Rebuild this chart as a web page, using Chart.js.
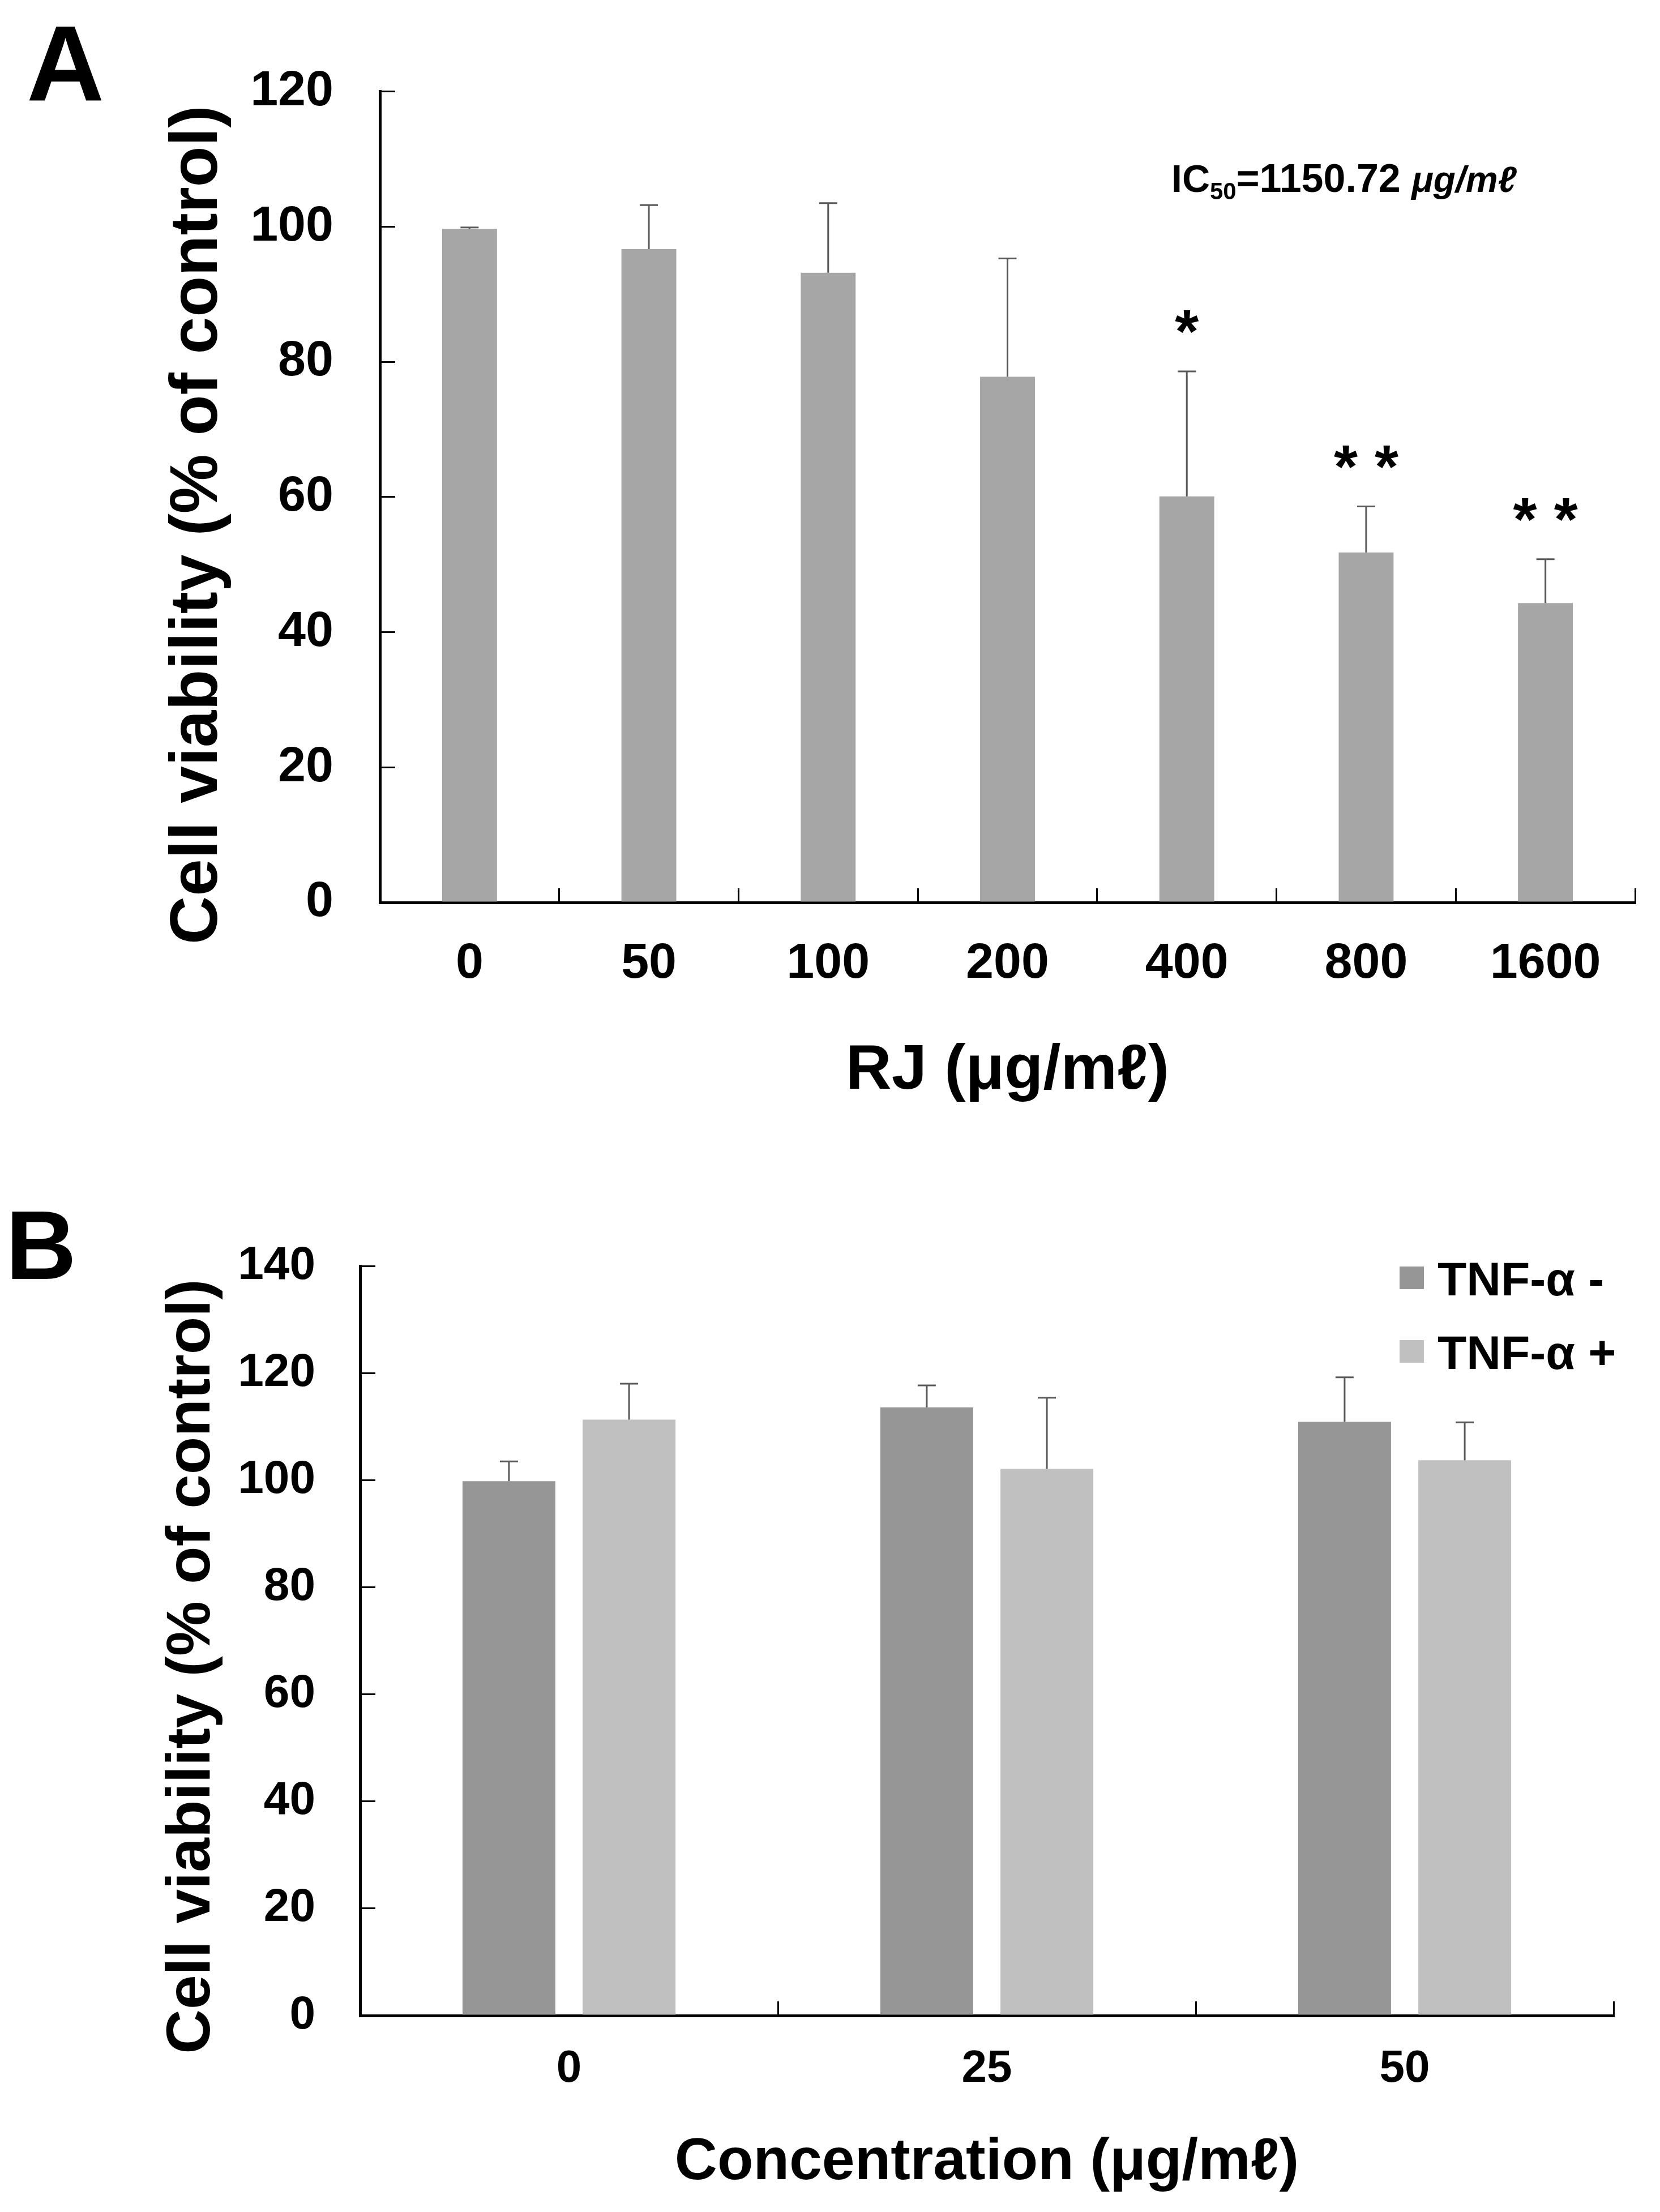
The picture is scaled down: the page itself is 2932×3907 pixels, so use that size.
<!DOCTYPE html>
<html>
<head>
<meta charset="utf-8">
<script src="https://cdn.jsdelivr.net/npm/chart.js@4.4.1/dist/chart.umd.min.js"></script>
<style>
  body { margin: 0; background: #fff; }
  canvas { display: block; }
</style>
</head>
<body>
<canvas id="chartA" width="2932" height="2000" style="width:2932px;height:2000px"></canvas>
<canvas id="chartB" width="2932" height="1907" style="width:2932px;height:1907px"></canvas>
<script>
const FONT = "'Liberation Sans', Arial, sans-serif";

// panel A - RJ dose response
const rjDoses = ['0', '50', '100', '200', '400', '800', '1600'];
const rjViability = [99.7, 96.7, 93.2, 77.8, 60.1, 51.8, 44.3];
const rjError = [0.2, 6.5, 10.3, 17.5, 18.5, 6.8, 6.5];
const rjStars = ['', '', '', '', '*', '* *', '* *'];

// panel B - with / without TNF-a
const concLabels = ['0', '25', '50'];
const tnfMinus = [99.8, 113.6, 110.9];
const tnfMinusErr = [3.7, 4.1, 8.3];
const tnfPlus = [111.3, 102.1, 103.7];
const tnfPlusErr = [6.7, 13.3, 7.1];

Chart.defaults.font.family = FONT;
Chart.defaults.color = '#000';

const errorBars = {
    id: 'errorBars',
    afterDatasetsDraw(chart) {
        const ctx = chart.ctx;
        const y = chart.scales.y;
        chart.data.datasets.forEach((ds, i) => {
            if (!ds.errors) return;
            const meta = chart.getDatasetMeta(i);
            ctx.save();
            ctx.strokeStyle = '#595959';
            ctx.lineWidth = 3;
            meta.data.forEach((bar, j) => {
                const top = y.getPixelForValue(ds.data[j] + ds.errors[j]);
                ctx.beginPath();
                ctx.moveTo(bar.x, bar.y);
                ctx.lineTo(bar.x, top);
                ctx.moveTo(bar.x - 16, top);
                ctx.lineTo(bar.x + 16, top);
                ctx.stroke();
                if (ds.stars && ds.stars[j]) {
                    ctx.fillStyle = '#000';
                    ctx.font = 'bold 108px ' + FONT;
                    ctx.textAlign = 'center';
                    ctx.textBaseline = 'alphabetic';
                    ctx.fillText(ds.stars[j], bar.x, top - 34);
                }
            });
            ctx.restore();
        });
    }
};

const panelLetter = {
    id: 'panelLetter',
    afterDraw(chart, args, opts) {
        const ctx = chart.ctx;
        ctx.save();
        ctx.fillStyle = '#000';
        ctx.font = 'bold ' + opts.size + 'px ' + FONT;
        ctx.textAlign = 'left';
        ctx.textBaseline = 'alphabetic';
        ctx.fillText(opts.text, opts.x, opts.y);
        ctx.restore();
    }
};

const ic50Note = {
    id: 'ic50Note',
    afterDraw(chart) {
        const ctx = chart.ctx;
        const area = chart.chartArea;
        let x = area.left + 1398;
        const y = area.top + 177;
        ctx.save();
        ctx.fillStyle = '#000';
        ctx.textBaseline = 'alphabetic';
        ctx.textAlign = 'left';
        ctx.font = 'bold 68px ' + FONT;
        ctx.fillText('IC', x, y);
        x += ctx.measureText('IC').width;
        ctx.font = 'bold 42px ' + FONT;
        ctx.fillText('50', x, y + 13);
        x += ctx.measureText('50').width;
        ctx.font = 'bold 70px ' + FONT;
        ctx.fillText('=1150.72 ', x, y);
        x += ctx.measureText('=1150.72 ').width;
        ctx.font = 'italic bold 64px ' + FONT;
        ctx.fillText('\u03bcg/m\u2113', x, y);
        ctx.restore();
    }
};

const sideLegend = {
    id: 'sideLegend',
    afterDraw(chart) {
        const ctx = chart.ctx;
        const area = chart.chartArea;
        ctx.save();
        ctx.font = 'bold 84px ' + FONT;
        ctx.textAlign = 'left';
        ctx.textBaseline = 'alphabetic';
        chart.data.datasets.forEach((ds, i) => {
            const left = area.right - 378;
            const cy = area.top + 21 + i * 130;
            ctx.fillStyle = ds.backgroundColor;
            ctx.fillRect(left, cy - 20, 43, 40);
            ctx.fillStyle = '#000';
            ctx.fillText(ds.label, left + 67, cy + 31);
        });
        ctx.restore();
    }
};

function yAxis(max, tickSize, padding, axisWidth, title, titleSize, titleTop) {
    return {
        min: 0,
        max: max,
        ticks: { stepSize: 20, padding: padding, font: { size: tickSize, weight: 'bold' }, color: '#000' },
        grid: { drawOnChartArea: false, drawTicks: true, tickLength: -27, color: '#000', lineWidth: 3 },
        border: { display: true, color: '#000', width: 5 },
        title: {
            display: true,
            text: title,
            color: '#000',
            font: { size: titleSize, weight: 'bold' },
            padding: { top: titleTop, bottom: 0 }
        },
        afterFit: s => { s.width = axisWidth; }
    };
}

function xAxis(tickSize, padding, axisHeight, title, titleSize, titleBottom) {
    return {
        offset: true,
        ticks: { padding: padding, autoSkip: false, maxRotation: 0, font: { size: tickSize, weight: 'bold' }, color: '#000' },
        grid: { offset: true, drawOnChartArea: false, drawTicks: true, tickLength: -25, color: '#000', lineWidth: 3 },
        border: { display: true, color: '#000', width: 5 },
        title: {
            display: true,
            text: title,
            color: '#000',
            font: { size: titleSize, weight: 'bold' },
            padding: { top: 0, bottom: titleBottom }
        },
        afterFit: s => { s.height = axisHeight; }
    };
}

new Chart(document.getElementById('chartA'), {
    type: 'bar',
    data: {
        labels: rjDoses,
        datasets: [{
            label: 'RJ',
            data: rjViability,
            errors: rjError,
            stars: rjStars,
            backgroundColor: '#a6a6a6',
            barPercentage: 0.306,
            categoryPercentage: 1
        }]
    },
    options: {
        responsive: false,
        animation: false,
        devicePixelRatio: 1,
        layout: { padding: { left: 0, top: 141.6, right: 44, bottom: 0 } },
        plugins: {
            legend: { display: false },
            tooltip: { enabled: false },
            panelLetter: { text: 'A', x: 47, y: 177, size: 190 }
        },
        scales: {
            x: xAxis(88, 81, 406, 'RJ (\u03bcg/m\u2113)', 112, 41),
            y: yAxis(120, 88, 109, 671, 'Cell viability (% of control)   ', 118, 280)
        }
    },
    plugins: [errorBars, panelLetter, ic50Note]
});

new Chart(document.getElementById('chartB'), {
    type: 'bar',
    data: {
        labels: concLabels,
        datasets: [{
            label: 'TNF-\u03b1 -',
            data: tnfMinus,
            errors: tnfMinusErr,
            backgroundColor: '#969696',
            barPercentage: 0.773,
            categoryPercentage: 0.575
        }, {
            label: 'TNF-\u03b1 +',
            data: tnfPlus,
            errors: tnfPlusErr,
            backgroundColor: '#c0c0c0',
            barPercentage: 0.773,
            categoryPercentage: 0.575
        }]
    },
    options: {
        responsive: false,
        animation: false,
        devicePixelRatio: 1,
        layout: { padding: { left: 0, top: 236, right: 82, bottom: 0 } },
        plugins: {
            legend: { display: false },
            tooltip: { enabled: false },
            panelLetter: { text: 'B', x: 10, y: 259, size: 173 }
        },
        scales: {
            x: xAxis(80, 72, 347, 'Concentration (\u03bcg/m\u2113)', 104, 24),
            y: yAxis(140, 82, 106, 636, 'Cell viability (% of control)   ', 109, 275)
        }
    },
    plugins: [errorBars, panelLetter, sideLegend]
});
</script>
</body>
</html>
